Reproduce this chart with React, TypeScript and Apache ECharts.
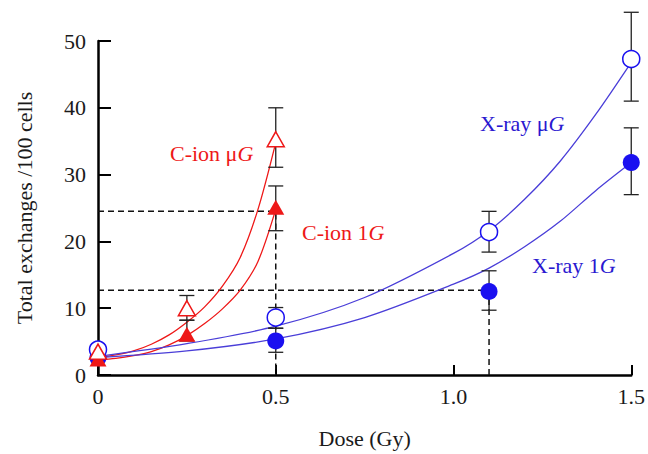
import React, { useEffect, useRef } from "react";
import * as echarts from "echarts";

// ---- data ----
const xrayDose = [0, 0.5, 1.1, 1.5];
const xrayMuG = [3.8, 8.6, 21.4, 47.3];
const xray1G = [2.6, 5.1, 12.5, 31.8];
const ionDose = [0, 0.25, 0.5];
const ionMuG = [3.5, 10.0, 35.3];
const ion1G = [2.4, 6.1, 25.1];

// error bars: [dose, low, high]
const xrayMuGErr = [[0.5, 7.0, 10.1], [1.1, 18.4, 24.5], [1.5, 41.0, 54.3]];
const xray1GErr = [[0.5, 3.4, 7.0], [1.1, 9.7, 15.6], [1.5, 27.0, 37.0]];
const ionMuGErr = [[0.25, 8.2, 11.9], [0.5, 31.1, 40.0]];
const ion1GErr = [[0.25, 5.1, 8.2], [0.5, 21.6, 28.3]];

// fitted curves
const ionFitDose = [0, 0.05, 0.1, 0.15, 0.2, 0.25, 0.3, 0.35, 0.4, 0.45, 0.5];
const ionMuGFit = [2.6, 3.0, 3.6, 4.6, 6.0, 7.9, 10.2, 13.3, 17.6, 24.8, 34.8];
const ion1GFit = [2.3, 2.5, 2.9, 3.5, 4.5, 5.9, 7.7, 9.9, 12.7, 17.0, 24.8];
const xrayFitDose = [0, 0.25, 0.5, 0.75, 1.0, 1.1, 1.2, 1.3, 1.4, 1.5];
const xrayMuGFit = [2.8, 4.7, 7.3, 11.6, 18.2, 21.6, 26.3, 32.0, 39.0, 46.8];
const xray1GFit = [2.6, 3.6, 5.4, 8.6, 13.6, 16.0, 19.2, 23.0, 27.6, 31.8];

// dashed guide lines
const guideY = [24.5, 12.7];
const guideX = [0.5, 1.1];

const xTickLabels: Record<string, string> = { "0": "0", "0.5": "0.5", "1": "1.0", "1.5": "1.5" };

const FONT = "'Liberation Serif', 'DejaVu Serif', serif";
const RED = "#ee1818";
const BLUE = "#1a10f0";
const BLUE_LINE = "#4a3ed8";
const BLUE_TEXT = "#2a18d0";
const TXT = "#1a1a1a";

const zip = (xs: number[], ys: number[]) => xs.map((x, i) => [x, ys[i]]);

function errorBarSeries(data: number[][]) {
  return {
    type: "custom",
    clip: false,
    z: 3,
    encode: { x: 0, y: [1, 2] },
    data,
    renderItem: (params: any, api: any) => {
      const x = api.value(0);
      const lo = api.coord([x, api.value(1)]);
      const hi = api.coord([x, api.value(2)]);
      const half = 7.5;
      const style = { stroke: "#222", lineWidth: 1.3 };
      return {
        type: "group",
        children: [
          { type: "line", shape: { x1: lo[0], y1: lo[1], x2: hi[0], y2: hi[1] }, style },
          { type: "line", shape: { x1: lo[0] - half, y1: lo[1], x2: lo[0] + half, y2: lo[1] }, style },
          { type: "line", shape: { x1: hi[0] - half, y1: hi[1], x2: hi[0] + half, y2: hi[1] }, style },
        ],
      };
    },
  };
}

function curve(xs: number[], ys: number[], color: string) {
  return {
    type: "line",
    data: zip(xs, ys),
    smooth: 0.3,
    showSymbol: false,
    symbol: "none",
    z: 2,
    lineStyle: { color, width: 1.3 },
  };
}

function guide(i: number) {
  return {
    type: "line",
    data: [[0, guideY[i]], [guideX[i], guideY[i]], [guideX[i], 0]],
    symbol: "none",
    z: 1,
    lineStyle: { color: "#111", width: 1.5, type: [6, 4] },
  };
}

function label(x: number, y: number, main: string, color: string) {
  return {
    type: "text",
    x,
    y,
    z: 10,
    style: {
      text: main + "{i|G}",
      fill: color,
      fontSize: 22,
      fontFamily: FONT,
      verticalAlign: "middle",
      align: "left",
      rich: {
        i: { fontStyle: "italic", fontSize: 22, fontFamily: FONT, fill: color },
      },
    },
  };
}

export default function App() {
  const ref = useRef<HTMLDivElement>(null);
  useEffect(() => {
    if (!ref.current) return;
    const chart = echarts.init(ref.current, null, { renderer: "svg" });
    chart.setOption({
      animation: false,
      backgroundColor: "#fff",
      grid: { left: 98, right: 11, top: 41, bottom: 77 },
      xAxis: {
        type: "value",
        min: 0,
        max: 1.5,
        interval: 0.5,
        name: "Dose (Gy)",
        nameLocation: "middle",
        nameGap: 52,
        nameTextStyle: { fontFamily: FONT, fontSize: 22, color: TXT },
        axisLine: { show: true, onZero: false, lineStyle: { color: "#000", width: 2.5 } },
        axisTick: { show: true, inside: true, length: 10, lineStyle: { color: "#000", width: 2 } },
        axisLabel: {
          margin: 10,
          fontFamily: FONT,
          fontSize: 22,
          color: TXT,
          formatter: (v: number) => xTickLabels[String(v)] ?? String(v),
        },
        splitLine: { show: false },
      },
      yAxis: {
        type: "value",
        min: 0,
        max: 50,
        interval: 10,
        name: "Total exchanges /100 cells",
        nameLocation: "middle",
        nameGap: 63,
        nameRotate: 90,
        nameTextStyle: { fontFamily: FONT, fontSize: 22, color: TXT },
        axisLine: { show: true, onZero: false, lineStyle: { color: "#000", width: 2.5 } },
        axisTick: { show: true, inside: true, length: 13, lineStyle: { color: "#000", width: 2 } },
        axisLabel: { margin: 12, fontFamily: FONT, fontSize: 22, color: TXT },
        splitLine: { show: false },
      },
      graphic: [
        label(170, 153, "C-ion μ", RED),
        label(302, 232, "C-ion 1", RED),
        label(480, 123, "X-ray μ", BLUE_TEXT),
        label(532, 265, "X-ray 1", BLUE_TEXT),
      ],
      series: [
        guide(0),
        guide(1),
        curve(ionFitDose, ionMuGFit, RED),
        curve(ionFitDose, ion1GFit, RED),
        curve(xrayFitDose, xrayMuGFit, BLUE_LINE),
        curve(xrayFitDose, xray1GFit, BLUE_LINE),
        errorBarSeries(xrayMuGErr),
        errorBarSeries(xray1GErr),
        errorBarSeries(ionMuGErr),
        errorBarSeries(ion1GErr),
        {
          type: "scatter",
          name: "X-ray 1G",
          data: zip(xrayDose, xray1G),
          symbol: "circle",
          symbolSize: 17,
          z: 4,
          itemStyle: { color: BLUE, opacity: 1 },
        },
        {
          type: "scatter",
          name: "C-ion 1G",
          data: zip(ionDose, ion1G),
          symbol: "triangle",
          symbolSize: [17, 15],
          z: 4,
          itemStyle: { color: RED, opacity: 1 },
        },
        {
          type: "scatter",
          name: "X-ray μG",
          data: zip(xrayDose, xrayMuG),
          symbol: "circle",
          symbolSize: 17,
          z: 5,
          itemStyle: { color: "#fff", borderColor: BLUE, borderWidth: 1.5, opacity: 1 },
        },
        {
          type: "scatter",
          name: "C-ion μG",
          data: zip(ionDose, ionMuG),
          symbol: "triangle",
          symbolSize: [17, 15],
          z: 5,
          itemStyle: { color: "#fff", borderColor: RED, borderWidth: 1.5, opacity: 1 },
        },
      ],
    });
    return () => chart.dispose();
  }, []);
  return (
    <div
      ref={ref}
      style={{ position: "fixed", left: 0, top: 0, width: 648, height: 454, background: "#fff" }}
    />
  );
}
